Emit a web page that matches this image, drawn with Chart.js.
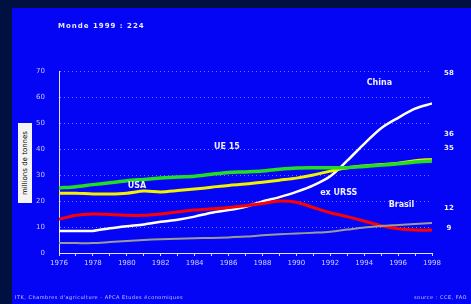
<!DOCTYPE html>
<html>
<head>
<meta charset="utf-8">
<script src="https://cdn.jsdelivr.net/npm/chart.js@4/dist/chart.umd.min.js"></script>
<style>
    body { margin: 0; background: #001040; width: 471px; height: 304px; overflow: hidden; font-family: 'DejaVu Sans', sans-serif; }
    #panel { position: absolute; left: 12px; top: 8px; width: 459px; height: 296px; background: #0505f5; }
    #chart { position: absolute; left: 0; top: 0; }
    .title { position: absolute; left: 46px; top: 14px; color: #e8e8ff; font-size: 7px; font-weight: bold; letter-spacing: 1px; }
    .ytitle { position: absolute; left: 6px; top: 115px; width: 14px; height: 80px; background: #f4f4f4; }
    .ytitle span { position: absolute; left: 50%; top: 50%; transform: translate(-50%, -50%) rotate(-90deg); white-space: nowrap; font-size: 7px; color: #000; }
    .foot { position: absolute; top: 286px; color: #c8c8ff; font-size: 5px; letter-spacing: 0.5px; }
</style>
</head>
<body>
<div id="panel">
    <canvas id="chart" width="459" height="296"></canvas>
    <div class="title">Monde 1999 : 224</div>
    <div class="ytitle"><span>millions de tonnes</span></div>
    <div class="foot" style="left:3px">ITK, Chambres d'agriculture - APCA Etudes économiques</div>
    <div class="foot" style="right:4px">source : CCE, FAO</div>
</div>
<script>
// Years and series (millions de tonnes)
const years = [1976, 1977, 1978, 1979, 1980, 1981, 1982, 1983, 1984, 1985, 1986, 1987,
               1988, 1989, 1990, 1991, 1992, 1993, 1994, 1995, 1996, 1997, 1998];
const ue15 = [25, 25.5, 26.3, 27, 27.8, 28.3, 28.8, 29.2, 29.5, 30.3, 31, 31.2,
              31.5, 32.2, 32.7, 32.8, 32.8, 32.8, 33.3, 33.8, 34.3, 35, 35.4];
const usa = [23, 23, 22.7, 22.7, 23, 23.8, 23.5, 24, 24.6, 25.3, 26, 26.5,
             27.2, 28, 28.8, 30, 31.5, 32.8, 33.5, 34, 34.5, 35.5, 36];
const exUrss = [13, 14.5, 15, 14.8, 14.5, 14.5, 15, 15.8, 16.5, 17, 17.5, 18.2,
                19, 20, 19.5, 17.5, 15.5, 14, 12.3, 10.5, 9.3, 8.8, 8.8];
const china = [8.5, 8.5, 8.5, 9.5, 10.3, 11, 12, 12.8, 14, 15.5, 16.5, 17.8,
               19.8, 21.5, 23.5, 26, 29.5, 35.5, 42, 48, 52, 55.5, 57.5];
const bresil = [3.8, 3.8, 3.8, 4.2, 4.6, 5, 5.3, 5.5, 5.7, 5.8, 6, 6.3,
                6.8, 7.2, 7.5, 7.8, 8.2, 9, 9.8, 10.4, 10.8, 11.2, 11.5];

// Series names placed in the plot, and final values on the right
const seriesLabels = ['China', 'UE 15', 'USA', 'ex URSS', 'Brasil'];
const seriesLabelX = [1994.9, 1985.9, 1980.6, 1992.5, 1996.2];
const seriesLabelY = [65.4, 40.8, 25.8, 23, 18.5];
const endLabels = ['58', '36', '35', '12', '9'];
const endLabelY = [69.2, 45.6, 40.2, 17.3, 9.6];
const endLabelX = 1999;

function toPoints(values) {
    return values.map((v, i) => ({ x: years[i], y: v }));
}

const labelPlugin = {
    id: 'labels',
    afterDatasetsDraw(chart) {
        const ctx = chart.ctx;
        const xs = chart.scales.x, ys = chart.scales.y;
        ctx.save();
        ctx.fillStyle = '#eeeeff';
        ctx.textAlign = 'center';
        ctx.textBaseline = 'middle';
        ctx.font = 'bold 8px "DejaVu Sans"';
        seriesLabels.forEach((t, i) => {
            ctx.fillText(t, xs.getPixelForValue(seriesLabelX[i]), ys.getPixelForValue(seriesLabelY[i]));
        });
        ctx.font = 'bold 7px "DejaVu Sans"';
        endLabels.forEach((t, i) => {
            ctx.fillText(t, xs.getPixelForValue(endLabelX), ys.getPixelForValue(endLabelY[i]));
        });
        ctx.restore();
    }
};

function line(data, color, width) {
    return {
        data: toPoints(data),
        borderColor: color,
        borderWidth: width,
        pointRadius: 0,
        tension: 0.3,
        fill: false
    };
}

new Chart(document.getElementById('chart'), {
    type: 'line',
    data: {
        datasets: [
            line(bresil, '#9a9a9a', 2),
            line(exUrss, '#ff0000', 3),
            line(ue15, '#22dd22', 3.5),
            line(usa, '#f2f200', 3),
            line(china, '#ffffff', 2.5)
        ]
    },
    options: {
        responsive: false,
        animation: false,
        layout: {
            padding: { left: 0, right: 39, top: 63, bottom: 31 }
        },
        scales: {
            x: {
                type: 'linear',
                min: 1976,
                max: 1998,
                afterFit: s => { s.height = 20; },
                grid: {
                    drawOnChartArea: false,
                    drawTicks: true,
                    tickLength: 3,
                    color: '#d8d8ff'
                },
                border: { color: '#e0e0ff', width: 1 },
                ticks: {
                    stepSize: 1,
                    autoSkip: false,
                    maxRotation: 0,
                    padding: 3,
                    color: '#d0d0ff',
                    font: { family: 'DejaVu Sans', size: 7 },
                    callback: v => (v % 2 === 0 ? String(v) : '')
                }
            },
            y: {
                min: 0,
                max: 70,
                afterFit: s => { s.width = 47; },
                grid: {
                    drawTicks: false,
                    color: 'rgba(220, 220, 255, 0.5)',
                    lineWidth: 1
                },
                border: { color: '#e0e0ff', width: 1, dash: [1, 3] },
                ticks: {
                    stepSize: 10,
                    padding: 14,
                    color: '#c0c0ff',
                    font: { family: 'DejaVu Sans', size: 7 }
                }
            }
        },
        plugins: {
            legend: { display: false },
            tooltip: { enabled: false }
        }
    },
    plugins: [labelPlugin]
});
</script>
</body>
</html>
